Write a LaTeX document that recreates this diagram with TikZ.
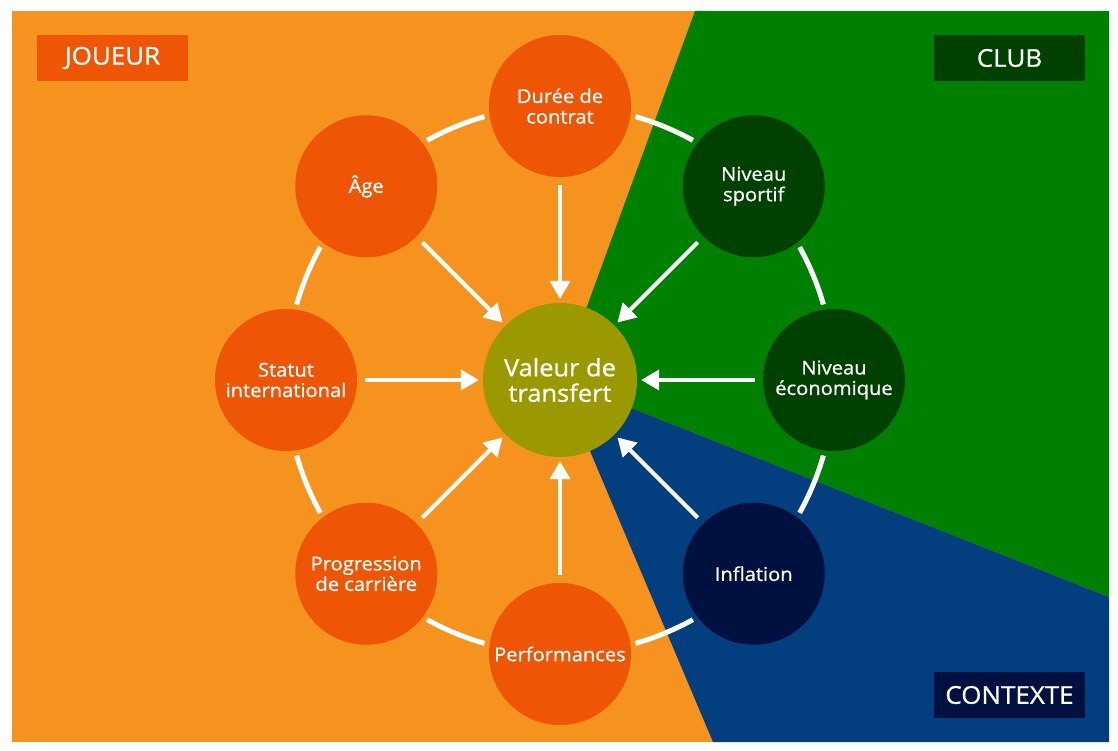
\documentclass[tikz,border=0pt]{standalone}
\usepackage{fontspec}
\setmainfont{Open Sans}[FakeStretch=1.06,FakeBold=0.8]
\usetikzlibrary{arrows.meta}
\definecolor{fondorange}{HTML}{F6931F}
\definecolor{orangenoeud}{HTML}{EE5606}
\definecolor{fondvert}{HTML}{008000}
\definecolor{vertnoeud}{HTML}{004000}
\definecolor{fondbleu}{HTML}{033E7E}
\definecolor{bleunoeud}{HTML}{00103F}
\definecolor{olive}{HTML}{9A9A00}
\begin{document}
\begin{tikzpicture}[x=1pt,y=1pt,
  facteur/.style={circle,minimum size=142pt,inner sep=0pt,text=white,align=center,font=\fontsize{19}{20.5}\selectfont},
  titre/.style={minimum width=151pt,minimum height=46pt,inner sep=0pt,text=white,font=\fontsize{24.5}{26}\selectfont},
  fleche/.style={white,line width=4pt,-{Triangle[length=18pt,width=20pt]},shorten <=8pt,shorten >=4pt},
  anneau/.style={white,line width=5pt}]
\useasboundingbox (-560,-371) rectangle (558,380);
\fill[white] (-560,-371) rectangle (558,380);
% les trois secteurs
\fill[fondorange] (-548,-362) rectangle (549,369);
\fill[fondvert] (0,0) -- (135,369) -- (549,369) -- (549,-217) -- cycle;
\fill[fondbleu] (0,0) -- (549,-217) -- (549,-362) -- (153,-362) -- cycle;
\node[titre,fill=orangenoeud] (joueur) at (-447.5,322) {JOUEUR};
\node[titre,fill=vertnoeud] (club) at (449.5,322) {CLUB};
\node[titre,fill=bleunoeud] (contexte) at (449.5,-315) {CONTEXTE};
% anneau
\foreach \a in {0,45,...,315}
  \draw[anneau] ({\a+16}:274) arc[start angle=\a+16,end angle=\a+29,radius=274];
\node[facteur,fill=orangenoeud] (duree) at (90:274) {Durée de\\contrat};
\node[facteur,fill=orangenoeud] (age) at (135:274) {Âge};
\node[facteur,fill=orangenoeud] (statut) at (180:274) {Statut\\international};
\node[facteur,fill=orangenoeud] (progression) at (225:274) {Progression\\de carrière};
\node[facteur,fill=orangenoeud] (performances) at (270:274) {Performances};
\node[facteur,fill=bleunoeud] (inflation) at (315:274) {Inflation};
\node[facteur,fill=vertnoeud] (economique) at (0:274) {Niveau\\économique};
\node[facteur,fill=vertnoeud] (sportif) at (45:274) {Niveau\\sportif};
\node[circle,minimum size=154pt,inner sep=0pt,fill=olive,text=white,align=center,font=\fontsize{24}{25.5}\selectfont] (valeur) at (0,0) {Valeur de\\transfert};
\foreach \n in {duree,age,statut,progression,performances,inflation,economique,sportif}
  \draw[fleche] (\n) -- (valeur);
\end{tikzpicture}
\end{document}
